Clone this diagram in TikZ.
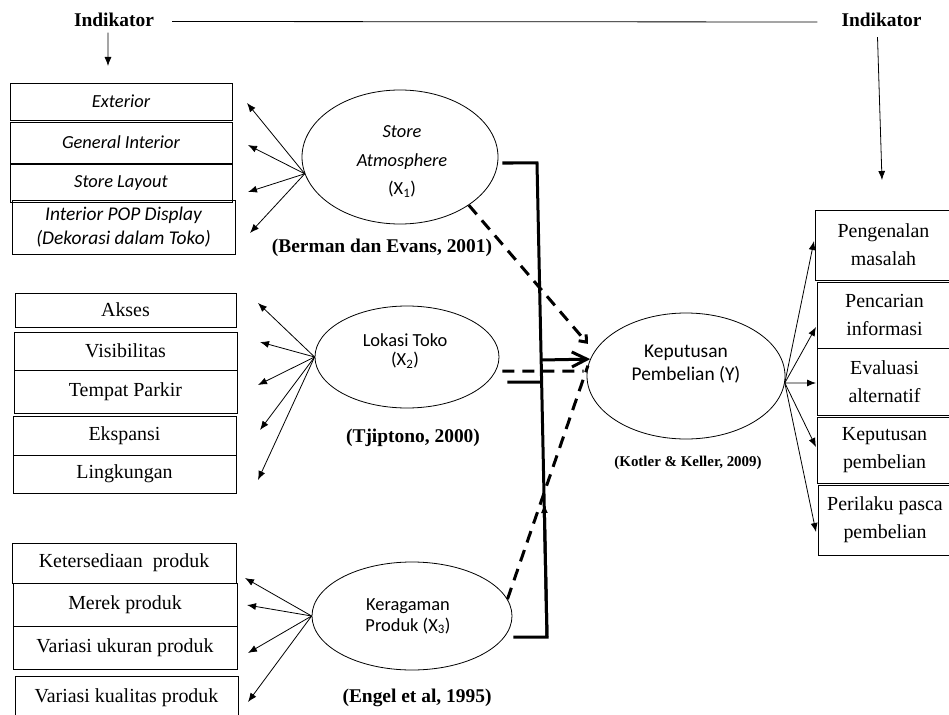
\documentclass[tikz,border=0pt]{standalone}
\usepackage{fontspec}
\setmainfont{Liberation Serif}
\newfontfamily\calibri{Carlito}
\usetikzlibrary{arrows.meta,shapes.geometric}
\begin{document}
\begin{tikzpicture}[x=1bp,y=-1bp,
  box/.style={draw, line width=0.9bp, inner sep=0pt, align=center, font=\fontsize{20}{28}\selectfont},
  ibox/.style={box, font=\calibri\itshape\fontsize{18.5}{27}\selectfont},
  ell/.style={draw, ellipse, line width=0.8bp, inner sep=0pt},
  etext/.style={align=center, inner sep=0pt, font=\calibri\fontsize{18.5}{#1}\selectfont},
  cite/.style={inner sep=0pt, font=\bfseries\fontsize{19.5}{22}\selectfont},
  ind/.style={line width=0.8bp, -{Latex[length=9bp,width=7bp]}},
  thk/.style={line width=3bp},
  dsh/.style={line width=3bp, dash pattern=on 12bp off 8bp},
]
\clip (0,0) rectangle (949,715);

% headers
\node[cite] (IL) at (114,19.5) {Indikator};
\node[cite] (IR) at (881.5,20) {Indikator};
\draw[line width=0.8bp, shorten <=18bp, shorten >=24bp] ([yshift=-2bp]IL.east) -- ([yshift=-2bp]IR.west);
\coordinate (ilt) at (108,66);
\draw[ind] ([xshift=-6bp,yshift=-6bp]IL.south) -- (ilt);
\coordinate (irt) at (882,180);
\draw[ind] ([xshift=-4bp,yshift=-10bp]IR.south) -- (irt);

% group 1 boxes
\node[ibox, minimum width=222bp, minimum height=37bp] (b11) at (121,101.5) {Exterior};
\node[ibox, minimum width=222bp, minimum height=41bp] (b12) at (121,142.5) {General Interior};
\node[ibox, minimum width=222bp, minimum height=38bp] (b13) at (121,183) {Store Layout};
\node[ibox, font=\calibri\itshape\fontsize{19.5}{24}\selectfont, minimum width=223bp, minimum height=54bp] (b14) at (123.5,227) {Interior POP Display\\(Dekorasi dalam Toko)};

% group 2 boxes
\node[box, minimum width=221bp, minimum height=34bp] (b21) at (125.5,310) {Akses};
\node[box, minimum width=223bp, minimum height=38bp] (b22) at (125.5,351) {Visibilitas};
\node[box, minimum width=223bp, minimum height=43bp] (b23) at (125.5,391.5) {Tempat Parkir};
\node[box, minimum width=223bp, minimum height=39bp] (b24) at (124.5,435.5) {Ekspansi};
\node[box, minimum width=223bp, minimum height=38bp] (b25) at (124.5,474) {Lingkungan};

% group 3 boxes
\node[box, minimum width=224bp, minimum height=40bp] (b31) at (124,563) {Ketersediaan\ \ produk};
\node[box, minimum width=224bp, minimum height=43bp] (b32) at (125,604.5) {Merek produk};
\node[box, minimum width=224bp, minimum height=43bp] (b33) at (125,647.5) {Variasi ukuran produk};
\node[box, minimum width=223bp, minimum height=44bp] (b34) at (126.5,698) {Variasi kualitas produk};

% right boxes
\node[box, minimum width=137bp, minimum height=70bp] (r1) at (883.5,245) {Pengenalan\\masalah};
\node[box, minimum width=135bp, minimum height=66bp] (r2) at (884.5,315) {Pencarian\\informasi};
\node[box, minimum width=135bp, minimum height=67bp] (r3) at (884.5,381.5) {Evaluasi\\alternatif};
\node[box, minimum width=135bp, minimum height=66bp] (r4) at (884.5,450) {Keputusan\\pembelian};
\node[box, minimum width=134bp, minimum height=70bp] (r5) at (885,520) {Perilaku pasca\\pembelian};

% ellipses
\node[ell, minimum width=196bp, minimum height=134bp] (SA) at (400,157) {};
\node[etext=28.5] (SAt) at (402,161.5) {{\itshape Store}\\{\itshape Atmosphere}\\(X\textsubscript{1})};
\node[ell, minimum width=184bp, minimum height=102bp] (LT) at (407,357) {};
\node[etext=19] (LTt) at (405,351) {Lokasi Toko\\(X\textsubscript{2})};
\node[ell, minimum width=200bp, minimum height=108bp] (KP) at (412,616) {};
\node[etext=21] (KPt) at (408,616) {Keragaman\\Produk (X\textsubscript{3})};
\node[ell, minimum width=198bp, minimum height=126bp] (Y) at (686,376) {};
\node[etext=23, font=\calibri\fontsize{19.5}{23}\selectfont] (Yt) at (686,364) {Keputusan\\Pembelian (Y)};

% citations
\node[cite] (c1) at (382,248) {(Berman dan Evans, 2001)};
\node[cite] (c2) at (413,437.5) {(Tjiptono, 2000)};
\node[cite] (c3) at (417,698) {(Engel et al, 1995)};
\node[cite, font=\bfseries\fontsize{15}{17}\selectfont] (c4) at (688,463) {(Kotler \& Keller, 2009)};

% indicator arrows, group 1
\coordinate (t11) at (247,103);
\coordinate (t12) at (248,145);
\coordinate (t13) at (248,192);
\coordinate (t14) at (250,233);
\foreach \t in {t11,t12,t13,t14} \draw[ind] (SA.190) -- (\t);

% group 2
\coordinate (t21) at (258,303);
\coordinate (t22) at (260,342);
\coordinate (t23) at (258,385);
\coordinate (t24) at (260,430);
\coordinate (t25) at (258,480);
\foreach \t in {t21,t22,t23,t24,t25} \draw[ind] (LT.west) -- (\t);

% group 3
\coordinate (t31) at (245,578);
\coordinate (t32) at (247,605);
\coordinate (t33) at (248,653);
\coordinate (t34) at (248,702);
\foreach \t in {t31,t32,t33,t34} \draw[ind] (KP.west) -- (\t);

% right side
\coordinate (t41) at (814,241);
\coordinate (t42) at (816,327);
\coordinate (t43) at (816,383);
\coordinate (t44) at (816,447);
\coordinate (t45) at (816,532);
\foreach \t in {t41,t42,t43,t44,t45} \draw[ind] (Y.-4) -- (\t);

% simultaneous (thick) lines
\coordinate (v1) at (537,163);
\coordinate (v2) at (547,637);
\coordinate (v4) at (541.5,382);
\coordinate (v5) at (541,360);
\coordinate (v6) at (544.2,503);
\draw[thk] ([xshift=4bp,yshift=-6bp]SA.east) -- (v1) -- (v2) -- ([xshift=1bp,yshift=-21bp]KP.east);
\draw[thk, -{Latex[length=10bp,width=7bp]}] (v2) -- (v6);
\draw[thk] ([xshift=8bp,yshift=-25bp]LT.east) -- (v4);
\draw[thk, -{Straight Barb[length=15bp,width=15bp]}] (v5) -- (Y.170.5);

% partial (dashed) lines
\draw[dsh, -{Straight Barb[length=6bp,width=10bp]}, shorten >=10bp] (SA.-35) -- (Y.165);
\draw[dsh, shorten >=3bp] ([xshift=3bp,yshift=-14bp]LT.east) -- ([yshift=5bp]Y.west);
\draw[dsh] (KP.10) -- (Y.174);
\end{tikzpicture}
\end{document}
